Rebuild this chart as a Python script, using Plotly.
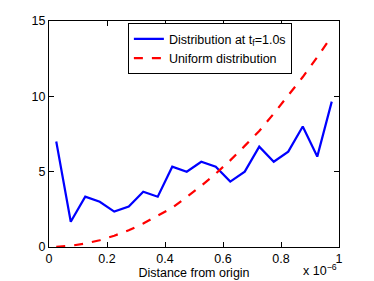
import plotly.graph_objects as go

x_um = [0.025, 0.075, 0.125, 0.175, 0.225, 0.275, 0.325, 0.375, 0.425, 0.475,
        0.525, 0.575, 0.625, 0.675, 0.725, 0.775, 0.825, 0.875, 0.925, 0.975]
x = [v * 1e-6 for v in x_um]
dist_tf = [7.0, 1.68, 3.34, 3.0, 2.35, 2.68, 3.67, 3.34, 5.33, 5.0,
           5.66, 5.33, 4.34, 5.0, 6.66, 5.66, 6.33, 8.0, 6.0, 9.65]
uniform = [0.01, 0.08, 0.23, 0.45, 0.75, 1.11, 1.56, 2.07, 2.6, 3.32,
           4.06, 4.87, 5.75, 6.71, 7.7, 8.85, 10.03, 11.28, 12.6, 14.0]

xtick_vals = [0, 0.2e-6, 0.4e-6, 0.6e-6, 0.8e-6, 1e-6]
xtick_text = ["0", "0.2", "0.4", "0.6", "0.8", "1"]
ytick_vals = [0, 5, 10, 15]

FONT = "Liberation Sans, Arial, sans-serif"

fig = go.Figure()
fig.add_trace(go.Scatter(x=x, y=dist_tf, mode="lines",
                         line=dict(color="#0000ff", width=2.2),
                         name="Distribution at t<sub>f</sub>=1.0s"))
fig.add_trace(go.Scatter(x=x, y=uniform, mode="lines",
                         line=dict(color="#ff0000", width=2.2, dash="dash"),
                         name="Uniform distribution"))

axis_common = dict(showline=True, linecolor="black", linewidth=1, mirror="ticks",
                   ticks="inside", ticklen=5, tickcolor="black", showgrid=False,
                   zeroline=False, automargin=False,
                   tickfont=dict(family=FONT, size=12.5, color="black"))

# page body has an 8px default margin, so the figure is sized to fit within it
fig.update_layout(
    width=366, height=273,
    margin=dict(l=41, r=35, t=13, b=34),
    paper_bgcolor="white", plot_bgcolor="white",
    font=dict(family=FONT, size=12.5, color="black"),
    showlegend=True,
    legend=dict(x=0.272, y=0.99, xanchor="left", yanchor="top",
                bordercolor="black", borderwidth=1, bgcolor="white",
                font=dict(family=FONT, size=12.5, color="black"),
                tracegroupgap=0),
    xaxis=dict(range=[0, 1e-6], tickvals=xtick_vals, ticktext=xtick_text,
               title=dict(text="Distance from origin", standoff=2,
                          font=dict(family=FONT, size=12.5, color="black")),
               **axis_common),
    yaxis=dict(range=[0, 15], tickvals=ytick_vals, **axis_common),
)
fig.add_annotation(xref="paper", yref="paper", x=1.0, y=-0.146, xanchor="right",
                   yanchor="bottom", showarrow=False,
                   text="x 10<sup>\u22126</sup>",
                   font=dict(family=FONT, size=12.5, color="black"))

fig.write_html("out.html")
